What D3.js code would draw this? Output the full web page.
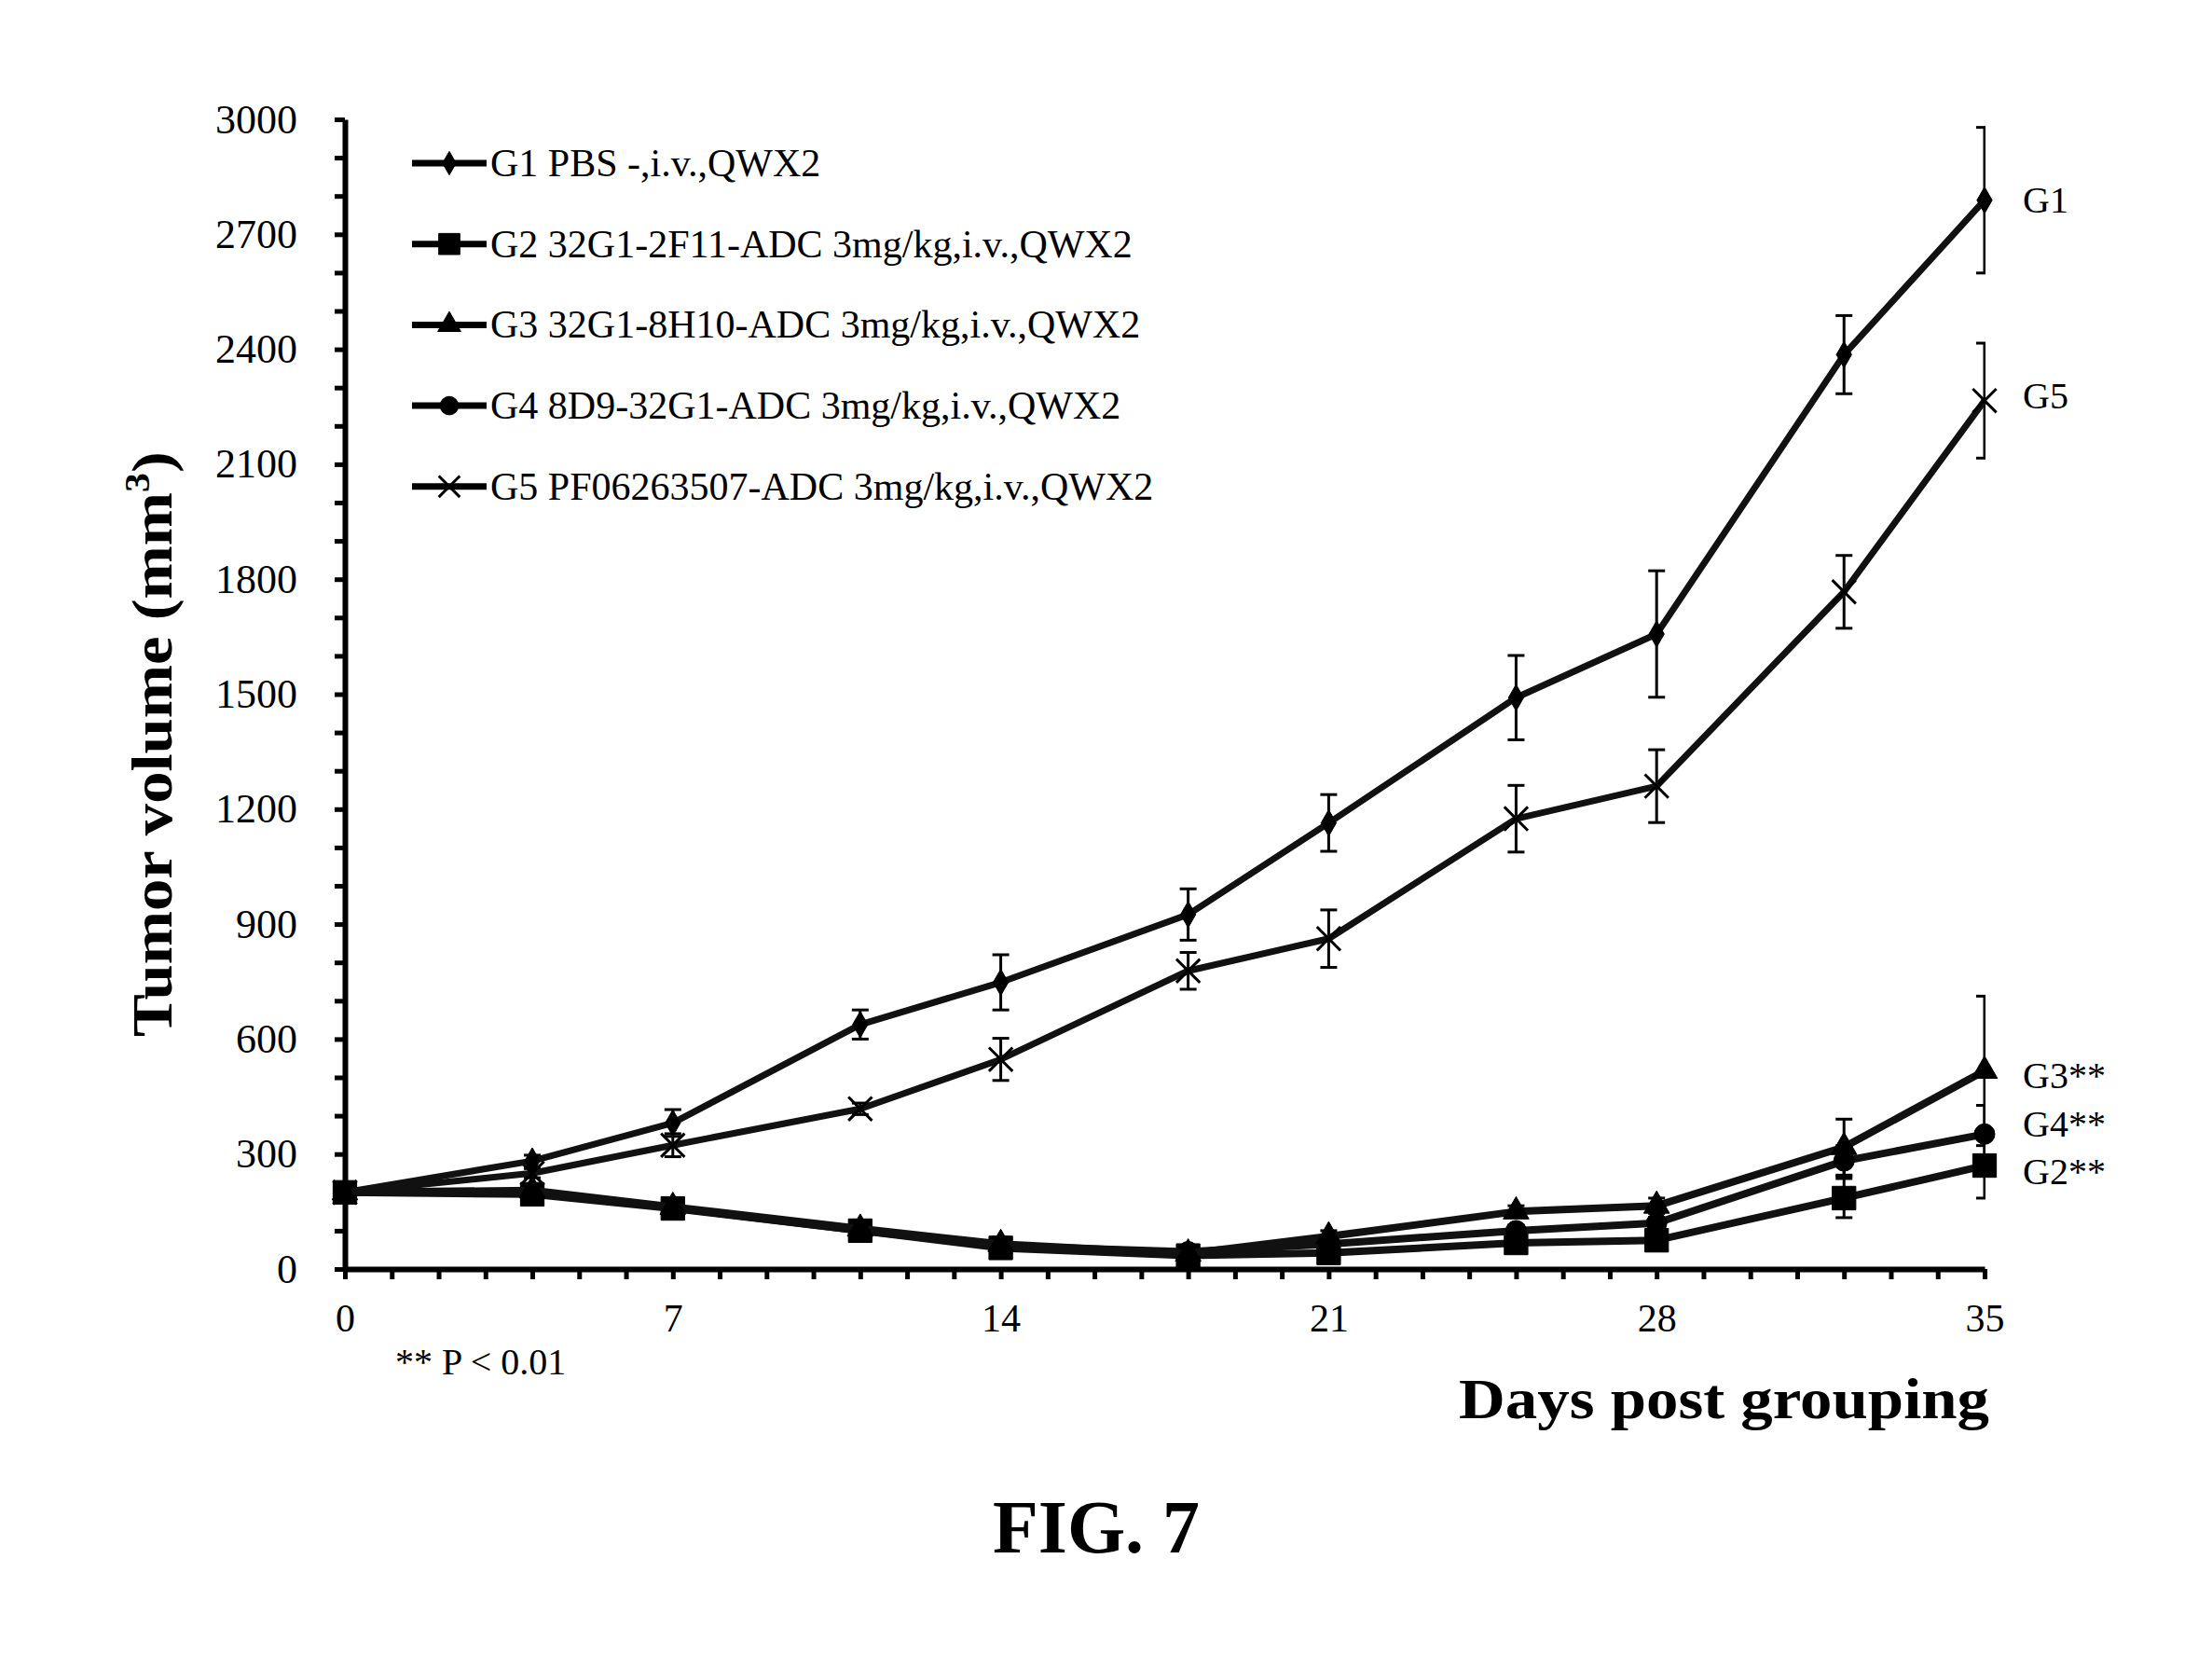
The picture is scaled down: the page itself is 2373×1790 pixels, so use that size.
<!DOCTYPE html>
<html>
<head>
<meta charset="utf-8">
<script src="https://cdnjs.cloudflare.com/ajax/libs/d3/7.8.5/d3.min.js"></script>
<style>
    html, body { margin: 0; padding: 0; background: #fff; }
    text { font-family: "Liberation Serif", "Times New Roman", serif; fill: #000; }
</style>
</head>
<body>
<div id="chart"></div>
<script>
// days where tumours were measured
var days = [0, 4, 7, 11, 14, 18, 21, 25, 28, 32, 35];

// mean tumour volume (mm3) and error per group
var g1Mean = [200, 282, 381, 638, 748, 925, 1164, 1491, 1657, 2386, 2789];
var g1Err  = [8, 15, 35, 38, 72, 67, 74, 110, 165, 102, 190];
var g2Mean = [200, 195, 158, 100, 55, 35, 42, 68, 75, 185, 270];
var g2Err  = [8, 10, 12, 12, 12, 8, 10, 12, 15, 51, 85];
var g3Mean = [200, 205, 162, 105, 65, 40, 85, 150, 165, 318, 517];
var g3Err  = [8, 10, 15, 15, 18, 12, 15, 15, 20, 73, 195];
var g4Mean = [200, 200, 160, 100, 60, 45, 65, 100, 120, 282, 352];
var g4Err  = [8, 10, 12, 12, 12, 10, 12, 15, 15, 40, 75];
var g5Mean = [200, 250, 323, 418, 547, 778, 862, 1175, 1260, 1767, 2266];
var g5Err  = [8, 12, 30, 15, 55, 48, 75, 87, 95, 95, 150];

var groupNames = ['G1 PBS -,i.v.,QWX2',
                  'G2 32G1-2F11-ADC 3mg/kg,i.v.,QWX2',
                  'G3 32G1-8H10-ADC 3mg/kg,i.v.,QWX2',
                  'G4 8D9-32G1-ADC 3mg/kg,i.v.,QWX2',
                  'G5 PF06263507-ADC 3mg/kg,i.v.,QWX2'];
var endLabels = ['G1', 'G2**', 'G3**', 'G4**', 'G5'];
var endLabelY = [2790, 255, 505, 380, 2280];   // value level where the right labels sit

var xTickLabels = [0, 7, 14, 21, 28, 35];
var yTickLabels = [0, 300, 600, 900, 1200, 1500, 1800, 2100, 2400, 2700, 3000];

var groups = [
    {mean: g1Mean, err: g1Err, symbol: d3.symbolDiamond, size: 230, filled: true},
    {mean: g2Mean, err: g2Err, symbol: d3.symbolSquare, size: 640, filled: true},
    {mean: g3Mean, err: g3Err, symbol: d3.symbolTriangle, size: 330, filled: true},
    {mean: g4Mean, err: g4Err, symbol: d3.symbolCircle, size: 380, filled: true},
    {mean: g5Mean, err: g5Err, symbol: d3.symbolTimes, size: 420, filled: false}
];

var width = 2373, height = 1790;
var plotLeft = 370, plotRight = 2129, plotTop = 128, plotBottom = 1361;

var svg = d3.select('#chart').append('svg')
    .attr('width', width)
    .attr('height', height)
    .attr('viewBox', '0 0 ' + width + ' ' + height);

svg.append('rect').attr('width', width).attr('height', height).attr('fill', '#fff');

var x = d3.scaleLinear().domain([0, 35]).range([plotLeft, plotRight]);
var y = d3.scaleLinear().domain([0, 3000]).range([plotBottom, plotTop]);

svg.append('clipPath').attr('id', 'plotclip')
    .append('rect')
    .attr('x', plotLeft - 20).attr('y', 0)
    .attr('width', plotRight - plotLeft + 21).attr('height', height);

// axes
var yAxis = d3.axisLeft(y)
    .tickValues(d3.range(0, 3001, 100))
    .tickFormat(function (d) { return yTickLabels.indexOf(d) >= 0 ? d : ''; })
    .tickSize(11)
    .tickSizeOuter(0)
    .tickPadding(40);

var xAxis = d3.axisBottom(x)
    .tickValues(d3.range(0, 36, 1))
    .tickFormat(function (d) { return xTickLabels.indexOf(d) >= 0 ? d : ''; })
    .tickSize(11)
    .tickSizeOuter(0)
    .tickPadding(26);

var gy = svg.append('g').attr('transform', 'translate(' + plotLeft + ',0)').call(yAxis);
var gx = svg.append('g').attr('transform', 'translate(0,' + plotBottom + ')').call(xAxis);

[gx, gy].forEach(function (g) {
    g.select('.domain').attr('stroke', '#000').attr('stroke-width', 6);
    g.selectAll('.tick line').attr('stroke', '#000').attr('stroke-width', 5);
    g.selectAll('.tick text')
        .attr('font-family', '"Liberation Serif", serif')
        .attr('fill', '#000');
});
gy.selectAll('.tick text').attr('font-size', 44);
gx.selectAll('.tick text').attr('font-size', 42);

// series
var line = d3.line()
    .x(function (d) { return x(d.day); })
    .y(function (d) { return y(d.v); });

var drawOrder = [1, 3, 2, 4, 0];

drawOrder.forEach(function (gi) {
    var grp = groups[gi];
    var pts = days.map(function (d, i) {
        return {day: d, v: grp.mean[i], e: grp.err[i]};
    });

    var eg = svg.append('g').attr('clip-path', 'url(#plotclip)');
    eg.selectAll('line.bar').data(pts).enter().append('line')
        .attr('x1', function (d) { return x(d.day); })
        .attr('x2', function (d) { return x(d.day); })
        .attr('y1', function (d) { return y(d.v - d.e); })
        .attr('y2', function (d) { return y(d.v + d.e); })
        .attr('stroke', '#000').attr('stroke-width', 3);
    eg.selectAll('line.capHi').data(pts).enter().append('line')
        .attr('x1', function (d) { return x(d.day) - 9; })
        .attr('x2', function (d) { return x(d.day) + 9; })
        .attr('y1', function (d) { return y(d.v + d.e); })
        .attr('y2', function (d) { return y(d.v + d.e); })
        .attr('stroke', '#000').attr('stroke-width', 3);
    eg.selectAll('line.capLo').data(pts).enter().append('line')
        .attr('x1', function (d) { return x(d.day) - 9; })
        .attr('x2', function (d) { return x(d.day) + 9; })
        .attr('y1', function (d) { return y(d.v - d.e); })
        .attr('y2', function (d) { return y(d.v - d.e); })
        .attr('stroke', '#000').attr('stroke-width', 3);

    svg.append('path')
        .datum(pts)
        .attr('d', line)
        .attr('fill', 'none')
        .attr('stroke', '#111')
        .attr('stroke-width', gi === 0 || gi === 4 ? 7 : 8)
        .attr('stroke-linejoin', 'round');

    svg.selectAll(null).data(pts).enter().append('path')
        .attr('transform', function (d) { return 'translate(' + x(d.day) + ',' + y(d.v) + ')'; })
        .attr('d', d3.symbol().type(grp.symbol).size(grp.size))
        .attr('fill', grp.filled ? '#000' : 'none')
        .attr('stroke', '#000')
        .attr('stroke-width', grp.filled ? 1 : 3);
});

// legend
var legend = svg.append('g');
groupNames.forEach(function (name, i) {
    var ly = 175 + i * 86.7;
    var grp = groups[i];
    legend.append('line')
        .attr('x1', 442).attr('x2', 522)
        .attr('y1', ly).attr('y2', ly)
        .attr('stroke', '#000').attr('stroke-width', 7);
    legend.append('path')
        .attr('transform', 'translate(482,' + ly + ')')
        .attr('d', d3.symbol().type(grp.symbol).size(grp.size * 0.8))
        .attr('fill', grp.filled ? '#000' : 'none')
        .attr('stroke', '#000')
        .attr('stroke-width', grp.filled ? 1 : 3);
    legend.append('text')
        .attr('x', 526).attr('y', ly + 14)
        .attr('font-size', 42)
        .text(name);
});

// labels at the right end of each line
endLabels.forEach(function (lab, i) {
    svg.append('text')
        .attr('x', 2170)
        .attr('y', y(endLabelY[i]) + 14)
        .attr('font-size', 40)
        .text(lab);
});

// axis titles, squeezed to the width they have in the figure
var yTitle = svg.append('text')
    .attr('font-size', 62)
    .attr('font-weight', 'bold')
    .attr('text-anchor', 'middle');
yTitle.append('tspan').text('Tumor volume (mm');
yTitle.append('tspan').attr('font-size', 38).attr('dy', -24).text('3');
yTitle.append('tspan').attr('dy', 24).text(')');
var yLen = yTitle.node().getComputedTextLength();
yTitle.attr('transform', 'translate(184,798) rotate(-90) scale(' + (628 / yLen) + ',1)');

var xTitle = svg.append('text')
    .attr('font-size', 62)
    .attr('font-weight', 'bold')
    .attr('text-anchor', 'end')
    .text('Days post grouping');
var xLen = xTitle.node().getComputedTextLength();
xTitle.attr('transform', 'translate(2134,1521) scale(' + (569 / xLen) + ',1)');

svg.append('text')
    .attr('x', 424).attr('y', 1474)
    .attr('font-size', 40)
    .text('** P < 0.01');

svg.append('text')
    .attr('x', 1176).attr('y', 1665)
    .attr('font-size', 80)
    .attr('font-weight', 'bold')
    .attr('text-anchor', 'middle')
    .text('FIG. 7');
</script>
</body>
</html>
